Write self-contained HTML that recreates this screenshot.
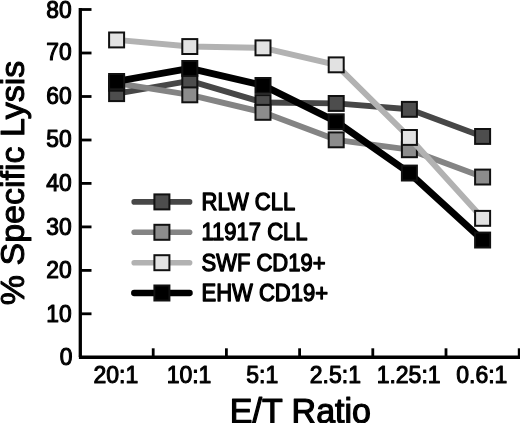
<!DOCTYPE html>
<html><head><meta charset="utf-8"><title>chart</title>
<style>
html,body{margin:0;padding:0;background:#fff;}
body{width:520px;height:423px;overflow:hidden;}
svg{display:block;}
text{font-family:"Liberation Sans",Arial,Helvetica,sans-serif;fill:#000;stroke:#000;stroke-linejoin:round;}
.yt{font-size:22.8px;text-anchor:end;stroke-width:1.05px;}
.xt{font-size:23px;text-anchor:middle;stroke-width:1.0px;}
.lg{font-size:22px;stroke-width:1.2px;}
.ti{font-size:34px;text-anchor:middle;stroke-width:1.2px;}
</style></head><body>
<svg xmlns="http://www.w3.org/2000/svg" width="520" height="423" viewBox="0 0 520 423">
<rect width="520" height="423" fill="#fff"/>

<g stroke="#000" fill="none">
<path d="M80.3 8.1V357" stroke-width="3.3"/>
<path d="M78.9 357.3H520" stroke-width="3.6"/>
<path d="M80 313.8H91.5" stroke-width="2.8"/>
<path d="M80 270.4H91.5" stroke-width="2.8"/>
<path d="M80 226.9H91.5" stroke-width="2.8"/>
<path d="M80 183.4H91.5" stroke-width="2.8"/>
<path d="M80 140.0H91.5" stroke-width="2.8"/>
<path d="M80 96.5H91.5" stroke-width="2.8"/>
<path d="M80 53.0H91.5" stroke-width="2.8"/>
<path d="M80 9.5H91.5" stroke-width="2.8"/>
<path d="M153.2 357V348.3" stroke-width="2.8"/>
<path d="M226.4 357V348.3" stroke-width="2.8"/>
<path d="M299.6 357V348.3" stroke-width="2.8"/>
<path d="M372.8 357V348.3" stroke-width="2.8"/>
<path d="M446.0 357V348.3" stroke-width="2.8"/>
<path d="M519.2 357V348.3" stroke-width="2.8"/>
</g>
<text class="yt" transform="translate(72.5 365.4) scale(1 1.05)">0</text>
<text class="yt" transform="translate(71.6 321.9) scale(1 1.05)">10</text>
<text class="yt" transform="translate(71.6 278.4) scale(1 1.05)">20</text>
<text class="yt" transform="translate(71.6 234.9) scale(1 1.05)">30</text>
<text class="yt" transform="translate(71.6 191.4) scale(1 1.05)">40</text>
<text class="yt" transform="translate(71.6 147.4) scale(1 1.05)">50</text>
<text class="yt" transform="translate(71.6 103.9) scale(1 1.05)">60</text>
<text class="yt" transform="translate(71.6 60.4) scale(1 1.05)">70</text>
<text class="yt" transform="translate(71.6 17.7) scale(1 1.05)">80</text>
<text class="xt" transform="translate(115.8 383.1) scale(1 1.05)">20:1</text>
<text class="xt" transform="translate(189.0 383.1) scale(1 1.05)">10:1</text>
<text class="xt" transform="translate(262.2 383.1) scale(1 1.05)">5:1</text>
<text class="xt" transform="translate(335.4 383.1) scale(1 1.05)">2.5:1</text>
<text class="xt" transform="translate(408.6 383.1) scale(1 1.05)">1.25:1</text>
<text class="xt" transform="translate(481.8 383.1) scale(1 1.05)">0.6:1</text>
<text class="ti" transform="translate(300.4 422.6) scale(1 1.035)">E/T Ratio</text>
<text class="ti" style="font-size:34px;stroke-width:1px" transform="translate(24.2 183.0) rotate(-90)">% Specific Lysis</text>
<polyline points="116.6,93.6 189.8,80.8 263.0,102.5 336.2,103.4 409.4,109.3 482.6,136.4" fill="none" stroke="#474747" stroke-width="5.9" stroke-linejoin="round"/>
<rect x="109.1" y="86.2" width="15" height="14.9" fill="#4d4d4d" stroke="#111" stroke-width="2"/>
<rect x="182.3" y="73.4" width="15" height="14.9" fill="#4d4d4d" stroke="#111" stroke-width="2"/>
<rect x="255.5" y="95.1" width="15" height="14.9" fill="#4d4d4d" stroke="#111" stroke-width="2"/>
<rect x="328.7" y="96.0" width="15" height="14.9" fill="#4d4d4d" stroke="#111" stroke-width="2"/>
<rect x="401.9" y="101.9" width="15" height="14.9" fill="#4d4d4d" stroke="#111" stroke-width="2"/>
<rect x="475.1" y="129.0" width="15" height="14.9" fill="#4d4d4d" stroke="#111" stroke-width="2"/>
<polyline points="116.6,83.2 189.8,94.8 263.0,112.3 336.2,139.8 409.4,149.7 482.6,177.0" fill="none" stroke="#848484" stroke-width="5.9" stroke-linejoin="round"/>
<rect x="109.1" y="75.8" width="15" height="14.9" fill="#8c8c8c" stroke="#111" stroke-width="2"/>
<rect x="182.3" y="87.4" width="15" height="14.9" fill="#8c8c8c" stroke="#111" stroke-width="2"/>
<rect x="255.5" y="104.9" width="15" height="14.9" fill="#8c8c8c" stroke="#111" stroke-width="2"/>
<rect x="328.7" y="132.4" width="15" height="14.9" fill="#8c8c8c" stroke="#111" stroke-width="2"/>
<rect x="401.9" y="142.3" width="15" height="14.9" fill="#8c8c8c" stroke="#111" stroke-width="2"/>
<rect x="475.1" y="169.6" width="15" height="14.9" fill="#8c8c8c" stroke="#111" stroke-width="2"/>
<polyline points="116.6,39.9 189.8,46.5 263.0,47.8 336.2,64.8 409.4,137.4 482.6,218.3" fill="none" stroke="#b2b2b2" stroke-width="5.9" stroke-linejoin="round"/>
<rect x="109.1" y="32.5" width="15" height="14.9" fill="#e2e2e2" stroke="#111" stroke-width="2"/>
<rect x="182.3" y="39.1" width="15" height="14.9" fill="#e2e2e2" stroke="#111" stroke-width="2"/>
<rect x="255.5" y="40.4" width="15" height="14.9" fill="#e2e2e2" stroke="#111" stroke-width="2"/>
<rect x="328.7" y="57.4" width="15" height="14.9" fill="#e2e2e2" stroke="#111" stroke-width="2"/>
<rect x="401.9" y="130.0" width="15" height="14.9" fill="#e2e2e2" stroke="#111" stroke-width="2"/>
<rect x="475.1" y="210.9" width="15" height="14.9" fill="#e2e2e2" stroke="#111" stroke-width="2"/>
<polyline points="116.6,81.4 189.8,68.4 263.0,85.4 336.2,121.7 409.4,173.0 482.6,240.0" fill="none" stroke="#000" stroke-width="7" stroke-linejoin="round"/>
<rect x="109.1" y="74.0" width="15" height="14.9" fill="#000" stroke="#111" stroke-width="2"/>
<rect x="182.3" y="61.0" width="15" height="14.9" fill="#000" stroke="#111" stroke-width="2"/>
<rect x="255.5" y="78.0" width="15" height="14.9" fill="#000" stroke="#111" stroke-width="2"/>
<rect x="328.7" y="114.3" width="15" height="14.9" fill="#000" stroke="#111" stroke-width="2"/>
<rect x="401.9" y="165.6" width="15" height="14.9" fill="#000" stroke="#111" stroke-width="2"/>
<rect x="475.1" y="232.6" width="15" height="14.9" fill="#000" stroke="#111" stroke-width="2"/>
<path d="M134.2 201.9H189.6" stroke="#474747" stroke-width="5.6" stroke-linecap="round" fill="none"/>
<rect x="154.4" y="194.4" width="15" height="15" fill="#4d4d4d" stroke="#111" stroke-width="2"/>
<text class="lg" transform="translate(201.5 209.8) scale(1 1.05)">RLW CLL</text>
<path d="M134.2 232.3H189.6" stroke="#848484" stroke-width="5.6" stroke-linecap="round" fill="none"/>
<rect x="154.4" y="224.8" width="15" height="15" fill="#8c8c8c" stroke="#111" stroke-width="2"/>
<text class="lg" transform="translate(201.5 240.2) scale(1 1.05)">11917 CLL</text>
<path d="M134.2 262.7H189.6" stroke="#b2b2b2" stroke-width="5.6" stroke-linecap="round" fill="none"/>
<rect x="154.4" y="255.2" width="15" height="15" fill="#e2e2e2" stroke="#111" stroke-width="2"/>
<text class="lg" transform="translate(201.5 270.6) scale(1 1.05)">SWF CD19+</text>
<path d="M134.2 293.0H189.6" stroke="#000" stroke-width="6.3" stroke-linecap="round" fill="none"/>
<rect x="154.4" y="285.5" width="15" height="15" fill="#000" stroke="#111" stroke-width="2"/>
<text class="lg" transform="translate(201.5 300.9) scale(1 1.05)">EHW CD19+</text>
</svg></body></html>
